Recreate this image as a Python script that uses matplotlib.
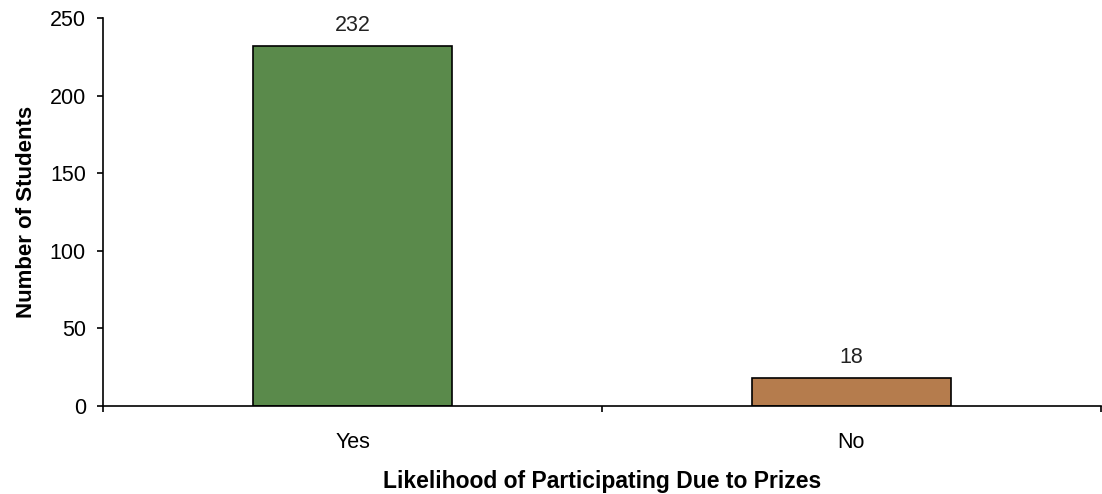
import matplotlib
matplotlib.use("Agg")
import matplotlib.pyplot as plt

plt.rcParams['font.family'] = ['Liberation Sans', 'DejaVu Sans']

categories = ['Yes', 'No']
students = [232, 18]
colors = ['#5a8a4b', '#b57c4d']

fig = plt.figure(figsize=(11.02, 4.94), dpi=100)
ax = fig.add_axes([0.0935, 0.178, 0.9055, 0.7856])

x = range(len(categories))
bars = ax.bar(x, students, width=0.4, color=colors, edgecolor='black', linewidth=1.2)

# valor encima de cada barra
for xi, v in zip(x, students):
    ax.annotate(str(v), (xi, v), xytext=(0, 7), textcoords='offset points',
                ha='center', va='bottom', fontsize=15.5, color='#222222')

ax.set_xlim(-0.5, 1.5)
ax.set_ylim(0, 250)
ax.set_yticks([0, 50, 100, 150, 200, 250])
ax.tick_params(axis='y', labelsize=15.5, length=4.3, width=1.2, direction='out', pad=8)

# ticks del eje x en los límites entre categorías, etiquetas centradas
ax.set_xticks([-0.5, 0.5, 1.5])
ax.set_xticklabels([])
ax.set_xticks(list(x), minor=True)
ax.set_xticklabels(categories, minor=True)
ax.tick_params(axis='x', which='major', length=4.3, width=1.2, direction='out')
ax.tick_params(axis='x', which='minor', length=0, labelsize=15.5, pad=19)

for side in ['top', 'right']:
    ax.spines[side].set_visible(False)
for side in ['left', 'bottom']:
    ax.spines[side].set_linewidth(1.2)

ax.set_xlabel('Likelihood of Participating Due to Prizes', fontsize=16.5, fontweight='bold', labelpad=12)
ax.set_ylabel('Number of Students', fontsize=16, fontweight='bold', labelpad=9)

fig.savefig('out.png', dpi=100)
